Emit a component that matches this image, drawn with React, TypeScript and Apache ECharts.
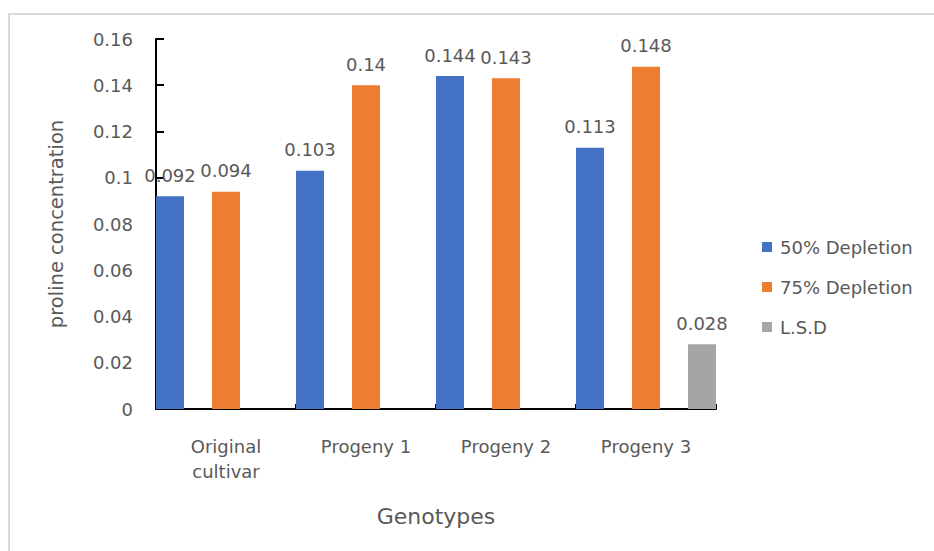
import React, { useEffect, useRef } from "react";
import * as echarts from "echarts";

const categories = ["Original\ncultivar", "Progeny 1", "Progeny 2", "Progeny 3"];
const depletion50 = [0.092, 0.103, 0.144, 0.113];
const depletion75 = [0.094, 0.14, 0.143, 0.148];
const lsd = [null, null, null, 0.028];
const seriesNames = ["50% Depletion", "75% Depletion", "L.S.D"];
const colors = ["#4472C4", "#ED7D31", "#A5A5A5"];

const FONT = "DejaVu Sans";
const TEXT = "#595959";

export default function App() {
  const ref = useRef<HTMLDivElement>(null);

  useEffect(() => {
    if (!ref.current) return;
    const chart = echarts.init(ref.current, undefined, { renderer: "svg" });

    const valueLabel = {
      show: true,
      position: "top" as const,
      distance: 12,
      color: TEXT,
      fontFamily: FONT,
      fontSize: 18,
    };

    const makeSeries = (name: string, data: (number | null)[], color: string) => ({
      name,
      type: "bar" as const,
      data,
      barGap: "100%",
      barCategoryGap: 0,
      itemStyle: { color },
      label: valueLabel,
    });

    chart.setOption({
      animation: false,
      backgroundColor: "#ffffff",
      textStyle: { fontFamily: FONT },
      grid: { left: 156, right: 218, top: 39, bottom: 142, containLabel: false },
      legend: {
        orient: "vertical",
        left: 757,
        top: 232,
        itemWidth: 10,
        itemHeight: 10,
        itemGap: 20,
        icon: "rect",
        data: seriesNames,
        textStyle: {
          color: TEXT,
          fontFamily: FONT,
          fontSize: 18,
          lineHeight: 20,
          padding: [0, 0, 0, 3],
        },
      },
      xAxis: {
        type: "category",
        data: categories,
        name: "Genotypes",
        nameLocation: "middle",
        nameGap: 96,
        nameTextStyle: { color: TEXT, fontFamily: FONT, fontSize: 22 },
        axisLine: { lineStyle: { color: "#000000", width: 2 } },
        axisTick: { show: true, inside: true, length: 5, alignWithLabel: false, lineStyle: { color: "#000000", width: 2 } },
        axisLabel: {
          color: TEXT,
          fontFamily: FONT,
          fontSize: 18,
          lineHeight: 25,
          margin: 25,
          interval: 0,
        },
      },
      yAxis: {
        type: "value",
        min: 0,
        max: 0.16,
        interval: 0.02,
        name: "proline concentration",
        nameLocation: "middle",
        nameGap: 90,
        nameRotate: 90,
        nameTextStyle: { color: TEXT, fontFamily: FONT, fontSize: 19.5 },
        axisLine: { show: true, lineStyle: { color: "#000000", width: 2 } },
        axisTick: { show: true, inside: true, length: 8, lineStyle: { color: "#000000", width: 2 } },
        splitLine: { show: false },
        axisLabel: {
          color: TEXT,
          fontFamily: FONT,
          fontSize: 18,
          margin: 23,
          formatter: (v: number) => String(+v.toFixed(2)),
        },
      },
      series: [
        makeSeries(seriesNames[0], depletion50, colors[0]),
        makeSeries(seriesNames[1], depletion75, colors[1]),
        makeSeries(seriesNames[2], lsd, colors[2]),
      ],
      graphic: [
        {
          type: "rect",
          shape: { x: 9, y: 14, width: 940, height: 560 },
          style: { fill: "none", stroke: "#d9d9d9", lineWidth: 2 },
          silent: true,
          z: -1,
        },
      ],
    });

    return () => chart.dispose();
  }, []);

  return (
    <div
      ref={ref}
      style={{ position: "fixed", left: 0, top: 0, width: 934, height: 551 }}
    />
  );
}
